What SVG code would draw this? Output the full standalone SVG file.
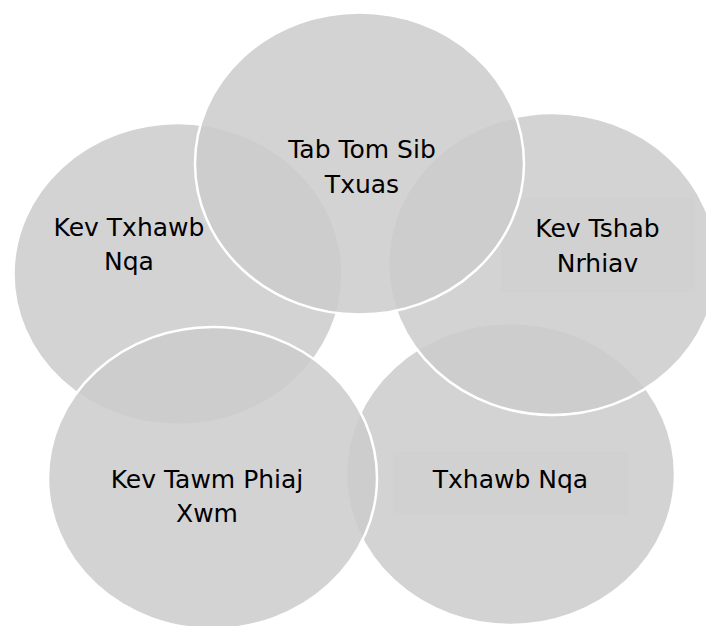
<svg xmlns="http://www.w3.org/2000/svg" width="706" height="626" viewBox="0 0 706 626">
<style>
.c{fill:#cdcccd;fill-opacity:0.86;stroke:#ffffff;stroke-width:2.5}
.b{fill:#000000;fill-opacity:0.009;stroke:none}
.t{font-family:"DejaVu Sans","Verdana",sans-serif;font-size:25px;fill:#000000;text-anchor:middle}
</style>
<rect width="706" height="626" fill="#ffffff"/>
<g id="node-kev-txhawb-nqa">
<ellipse class="c" cx="178" cy="274" rx="164.5" ry="151"/>
<text class="t" x="129" y="236">Kev Txhawb</text>
<text class="t" x="129" y="270">Nqa</text>
</g>
<g id="node-txhawb-nqa">
<ellipse class="c" cx="510.5" cy="474" rx="164.5" ry="151"/>
<rect class="b" x="393" y="452" width="235" height="63"/>
<text class="t" x="510.5" y="488">Txhawb Nqa</text>
</g>
<g id="node-kev-tshab-nrhiav">
<ellipse class="c" cx="552.5" cy="264" rx="164.5" ry="151"/>
<rect class="b" x="501" y="198" width="194" height="94"/>
<text class="t" x="597.5" y="237">Kev Tshab</text>
<text class="t" x="597.5" y="272">Nrhiav</text>
</g>
<g id="node-kev-tawm-phiaj-xwm">
<ellipse class="c" cx="212.5" cy="478" rx="164.5" ry="151"/>
<text class="t" x="207" y="488">Kev Tawm Phiaj</text>
<text class="t" x="207" y="522">Xwm</text>
</g>
<g id="node-tab-tom-sib-txuas">
<ellipse class="c" cx="359.5" cy="163.5" rx="164.5" ry="151"/>
<text class="t" x="362" y="158">Tab Tom Sib</text>
<text class="t" x="362" y="193">Txuas</text>
</g>
<g id="connectors"></g>
</svg>
